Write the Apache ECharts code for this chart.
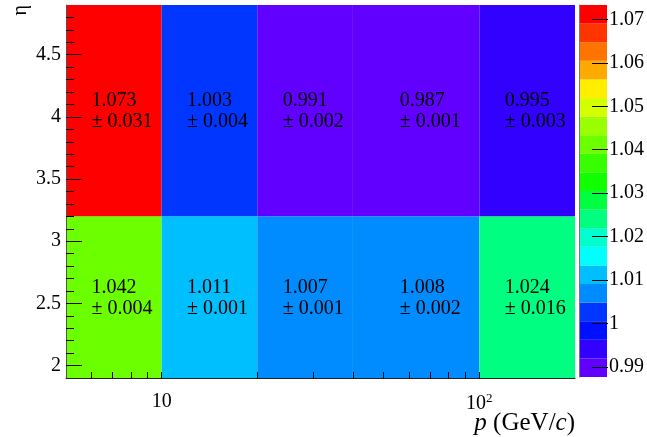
<!DOCTYPE html>
<html>
<head>
<meta charset="utf-8">
<script src="https://cdn.jsdelivr.net/npm/echarts@6/dist/echarts.min.js"></script>
<style>html,body{margin:0;padding:0;background:#fff;}#c{width:647px;height:437px;}</style>
</head>
<body>
<div id="c"></div>
<script>
// ---- data ----
const pEdges = [5, 10, 20, 40, 100, 200];          // p bin edges (GeV/c)
const etaEdges = [1.9, 3.2, 4.9];                   // eta bin edges
const ratioLowEta = [1.042, 1.011, 1.007, 1.008, 1.024];
const errLowEta   = [0.004, 0.001, 0.001, 0.002, 0.016];
const ratioHighEta = [1.073, 1.003, 0.991, 0.987, 0.995];
const errHighEta   = [0.031, 0.004, 0.002, 0.001, 0.003];
const zRange = [0.9877, 1.0733];
const nContours = 20;
const xTickLabels = [10, 100];
const xMinorTicks = [6, 7, 8, 9, 10, 20, 30, 40, 50, 60, 70, 80, 90, 100];
const yTickLabels = [2, 2.5, 3, 3.5, 4, 4.5];
const zTickLabels = [0.99, 1.00, 1.01, 1.02, 1.03, 1.04, 1.05, 1.06, 1.07];

// ---- style ----
const palette = ['#6100ff','#3100ff','#0010ff','#0036ff','#008cff','#00bfff','#00ffff','#00ffcc',
                 '#00ff80','#00ff40','#12ff00','#38ff00','#6cff00','#9cff00','#d4ff00','#ffee00',
                 '#ffaa00','#ff7400','#ff3500','#ff0000'];
const FONT = 'Liberation Serif';

const yMinorTicks = [];
for (let k = 20; k <= 48; k++) yMinorTicks.push(k / 10);

function bandIndex(v) {
  let i = Math.floor((v - zRange[0]) / (zRange[1] - zRange[0]) * nContours);
  return Math.max(0, Math.min(nContours - 1, i));
}

const cells = [];
const rows = [[ratioLowEta, errLowEta], [ratioHighEta, errHighEta]];
rows.forEach((r, j) => {
  r[0].forEach((v, i) => {
    cells.push([pEdges[i], pEdges[i + 1], etaEdges[j], etaEdges[j + 1], v, r[1][i]]);
  });
});

const bands = [];
for (let k = 0; k < nContours; k++) {
  const w = (zRange[1] - zRange[0]) / nContours;
  bands.push([zRange[0] + k * w, zRange[0] + (k + 1) * w, k]);
}

function renderCell(params, api) {
  const x0 = api.value(0), x1 = api.value(1), y0 = api.value(2), y1 = api.value(3);
  const v = api.value(4), e = api.value(5);
  const p0 = api.coord([x0, y0]), p1 = api.coord([x1, y1]);
  const c = api.coord([(x0 + x1) / 2, (y0 + y1) / 2]);
  return {
    type: 'group',
    children: [
      { type: 'rect',
        shape: { x: p0[0], y: p1[1], width: p1[0] - p0[0], height: p0[1] - p1[1] },
        style: { fill: palette[bandIndex(v)] } },
      { type: 'text', z2: 10,
        style: {
          x: c[0], y: c[1] + 1,
          text: '{a|' + v.toFixed(3) + '}\n{a|\u00b1 ' + e.toFixed(3) + '}',
          align: 'center', verticalAlign: 'middle',
          rich: { a: { align: 'left', fontSize: 20, lineHeight: 21, fontFamily: FONT, fill: '#000' } }
        } }
    ]
  };
}

function renderBand(params, api) {
  const lo = api.value(0), hi = api.value(1), k = api.value(2);
  const p0 = api.coord([0, lo]), p1 = api.coord([1, hi]);
  return { type: 'rect',
    shape: { x: p0[0], y: p1[1], width: p1[0] - p0[0], height: p0[1] - p1[1] },
    style: { fill: palette[k] } };
}

const labelStyle = { color: '#000', fontSize: 20, fontFamily: FONT };

const option = {
  animation: false,
  backgroundColor: '#fff',
  grid: [
    { left: 66, top: 5, right: 72, bottom: 59 },
    { left: 579, right: 39, top: 5, bottom: 60 }
  ],
  xAxis: [
    { gridIndex: 0, type: 'log', logBase: 10, min: 5, max: 200, z: 10,
      axisLine: { show: true, onZero: false, lineStyle: { color: '#222', width: 1 } },
      axisTick: { show: true, inside: true, length: 6, customValues: xMinorTicks, lineStyle: { color: '#000' } },
      axisLabel: Object.assign({}, labelStyle, {
        customValues: xTickLabels, margin: 14,
        formatter: function (v) { return v >= 100 ? '10{sup|2}' : '10'; },
        rich: { sup: { fontSize: 13, fontFamily: FONT, color: '#000', verticalAlign: 'top', padding: [0, 0, 10, 0] } }
      }),
      splitLine: { show: false },
      name: '{i|p} (GeV/{i|c})', nameLocation: 'end', nameGap: 0, nameMoveOverlap: false,
      nameTextStyle: {
        color: '#000', fontSize: 25, fontFamily: FONT,
        align: 'right', verticalAlign: 'top', padding: [33, 0, 0, 0],
        rich: { i: { fontStyle: 'italic', fontSize: 25, fontFamily: FONT, color: '#000' } }
      }
    },
    { gridIndex: 1, type: 'value', min: 0, max: 1, show: false }
  ],
  yAxis: [
    { gridIndex: 0, type: 'value', min: 1.9, max: 4.9, position: 'left', z: 10,
      axisLine: { show: true, lineStyle: { color: '#555', width: 1 } },
      axisTick: { show: true, inside: true, length: 16, customValues: yTickLabels, lineStyle: { color: '#000' } },
      axisLabel: Object.assign({}, labelStyle, { customValues: yTickLabels, margin: 5 }),
      splitLine: { show: false },
      name: '\u03b7', nameLocation: 'end', nameGap: 0, nameRotate: 90, nameMoveOverlap: false,
      nameTextStyle: Object.assign({}, labelStyle, { align: 'right', verticalAlign: 'bottom', padding: [0, 0, 35, 0] })
    },
    { gridIndex: 0, type: 'value', min: 1.9, max: 4.9, position: 'left', offset: 0, z: 10,
      axisLine: { show: false },
      axisTick: { show: true, inside: true, length: 8, customValues: yMinorTicks, lineStyle: { color: '#000' } },
      axisLabel: { show: false },
      splitLine: { show: false }
    },
    { gridIndex: 1, type: 'value', min: zRange[0], max: zRange[1], position: 'right', z: 10,
      axisLine: { show: true, lineStyle: { color: '#777', width: 1 } },
      axisTick: { show: false },
      axisLabel: Object.assign({}, labelStyle, { customValues: zTickLabels, margin: 2 }),
      splitLine: { show: false }
    },
    { gridIndex: 1, type: 'value', min: zRange[0], max: zRange[1], position: 'left', offset: -29, z: 10,
      axisLine: { show: false },
      axisTick: { show: true, inside: false, length: 16, customValues: zTickLabels, lineStyle: { color: '#000' } },
      axisLabel: { show: false },
      splitLine: { show: false }
    }
  ],
  series: [
    { type: 'custom', xAxisIndex: 0, yAxisIndex: 0, renderItem: renderCell,
      encode: { x: [0, 1], y: [2, 3] }, data: cells, clip: true },
    { type: 'custom', xAxisIndex: 1, yAxisIndex: 2, renderItem: renderBand,
      encode: { y: [0, 1] }, data: bands }
  ]
};

const chart = echarts.init(document.getElementById('c'), null, { renderer: 'canvas' });
chart.setOption(option);
</script>
</body>
</html>
